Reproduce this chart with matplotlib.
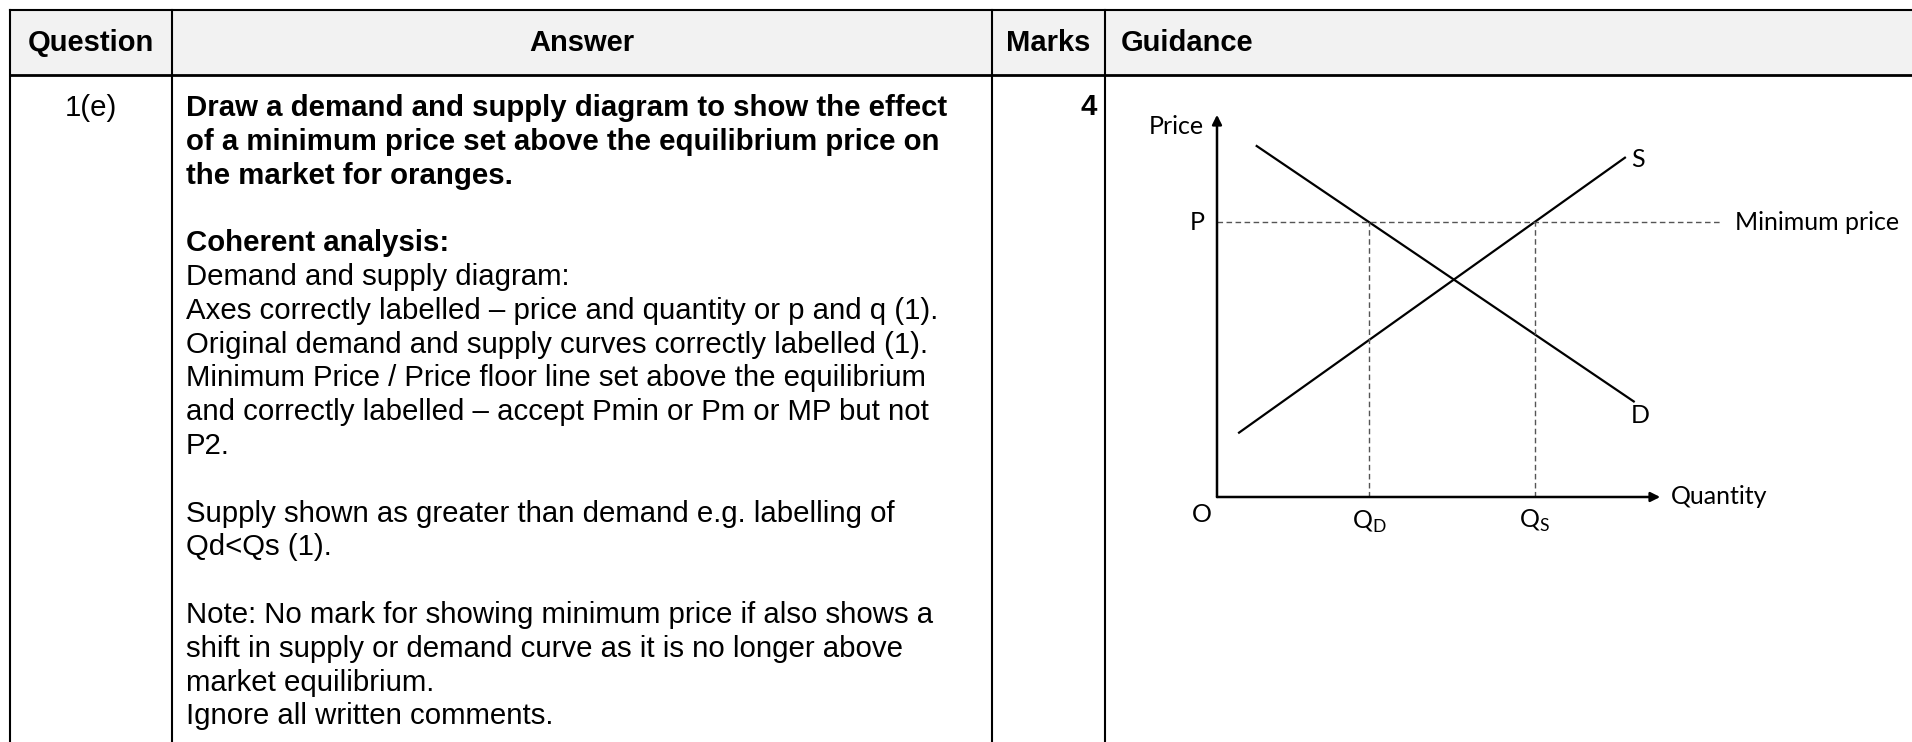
import numpy as np
import matplotlib
matplotlib.use("Agg")
import matplotlib.pyplot as plt

# table text
headers = ["Question", "Answer", "Marks", "Guidance"]
question = "1(e)"
marks = "4"
answer_lines = [
    ("Draw a demand and supply diagram to show the effect", True),
    ("of a minimum price set above the equilibrium price on", True),
    ("the market for oranges.", True),
    ("", False),
    ("Coherent analysis:", True),
    ("Demand and supply diagram:", False),
    ("Axes correctly labelled \u2013 price and quantity or p and q (1).", False),
    ("Original demand and supply curves correctly labelled (1).", False),
    ("Minimum Price / Price floor line set above the equilibrium", False),
    ("and correctly labelled \u2013 accept Pmin or Pm or MP but not", False),
    ("P2.", False),
    ("", False),
    ("Supply shown as greater than demand e.g. labelling of", False),
    ("Qd<Qs (1).", False),
    ("", False),
    ("Note: No mark for showing minimum price if also shows a", False),
    ("shift in supply or demand curve as it is no longer above", False),
    ("market equilibrium.", False),
    ("Ignore all written comments.", False),
]

# diagram data (arbitrary units, origin at O)
demand_q = [0.9, 9.45]
demand_p = [9.0, 2.45]
supply_q = [0.5, 9.25]
supply_p = [1.65, 8.7]
min_price = 7.05

# quantities at the minimum price
qd = np.interp(min_price, demand_p[::-1], demand_q[::-1])
qs = np.interp(min_price, supply_p, supply_q)

W, H = 1912, 742
fig = plt.figure(figsize=(W / 100, H / 100), dpi=100)
ax = fig.add_axes([0, 0, 1, 1])
ax.set_xlim(0, W)
ax.set_ylim(H, 0)
ax.axis("off")

tfont = "Liberation Sans"
tfs = 21.2
col_x = [10, 172, 992, 1105]
top, head_bot = 9.5, 75

ax.fill_between([col_x[0], W], top, head_bot, color="#f2f2f2", lw=0)
ax.plot([col_x[0], W], [top, top], color="black", lw=1.5)
ax.plot([col_x[0], W], [head_bot, head_bot], color="black", lw=2)
for x in col_x:
    ax.plot([x, x], [top, H], color="black", lw=1.5)

hy = 43
ax.text((col_x[0] + col_x[1]) / 2, hy, headers[0], fontsize=21, weight="bold",
        family=tfont, ha="center", va="center")
ax.text((col_x[1] + col_x[2]) / 2, hy, headers[1], fontsize=21, weight="bold",
        family=tfont, ha="center", va="center")
ax.text((col_x[2] + col_x[3]) / 2, hy, headers[2], fontsize=21, weight="bold",
        family=tfont, ha="center", va="center")
ax.text(col_x[3] + 16, hy, headers[3], fontsize=21, weight="bold",
        family=tfont, ha="left", va="center")

ax.text((col_x[0] + col_x[1]) / 2, 108, question, fontsize=tfs, family=tfont,
        ha="center", va="center")
ax.text(col_x[3] - 8, 107, marks, fontsize=tfs, weight="bold", family=tfont,
        ha="right", va="center")

y0, step = 108, 33.8
for i, (line, bold) in enumerate(answer_lines):
    if line:
        ax.text(186, y0 + i * step, line, fontsize=tfs, family=tfont,
                weight="bold" if bold else "normal", ha="left", va="center")

# demand and supply diagram
ox, oy = 1217, 497
ux, uy = 44.1, 39.0
dax = fig.add_axes([ox / W, (H - oy) / H, 10 * ux / W, 10 * uy / H])
dax.set_xlim(0, 10)
dax.set_ylim(0, 10)
dax.axis("off")
dfont = "Lato"
fs = 18

arrow = dict(arrowstyle="-|>", color="black", lw=1.8, mutation_scale=14,
             shrinkA=0, shrinkB=0)
dax.annotate("", xy=(0, 9.8), xytext=(0, 0), arrowprops=arrow,
             annotation_clip=False)
dax.annotate("", xy=(10.05, 0), xytext=(0, 0), arrowprops=arrow,
             annotation_clip=False)

dax.plot(demand_q, demand_p, color="black", lw=1.6)
dax.plot(supply_q, supply_p, color="black", lw=1.6)

dash = dict(color="#555555", lw=1.0, linestyle=(0, (4, 2.5)))
dax.plot([0, 11.4], [min_price, min_price], clip_on=False, **dash)
dax.plot([qd, qd], [0, min_price], **dash)
dax.plot([qs, qs], [0, min_price], **dash)

dax.text(-0.3, 9.5, "Price", fontsize=fs, family=dfont, ha="right", va="center",
         clip_on=False)
dax.text(-0.45, min_price, "P", fontsize=fs, family=dfont, ha="center",
         va="center", clip_on=False)
dax.text(-0.35, -0.45, "O", fontsize=fs, family=dfont, ha="center", va="center",
         clip_on=False)
dax.text(qd, -0.65, "Q$_\\mathregular{D}$", fontsize=fs, family=dfont,
         ha="center", va="center", clip_on=False)
dax.text(qs, -0.62, "Q$_\\mathregular{S}$", fontsize=fs, family=dfont,
         ha="center", va="center", clip_on=False)
dax.text(10.3, 0, "Quantity", fontsize=fs, family=dfont, ha="left", va="center",
         clip_on=False)
dax.text(supply_q[1] + 0.15, supply_p[1] - 0.05, "S", fontsize=fs, family=dfont,
         ha="left", va="center", clip_on=False)
dax.text(demand_q[1] + 0.15, demand_p[1] - 0.35, "D", fontsize=fs, family=dfont,
         ha="center", va="center", clip_on=False)
dax.text(11.75, min_price, "Minimum price", fontsize=fs, family=dfont,
         ha="left", va="center", clip_on=False)

fig.savefig("out.png", dpi=100)
